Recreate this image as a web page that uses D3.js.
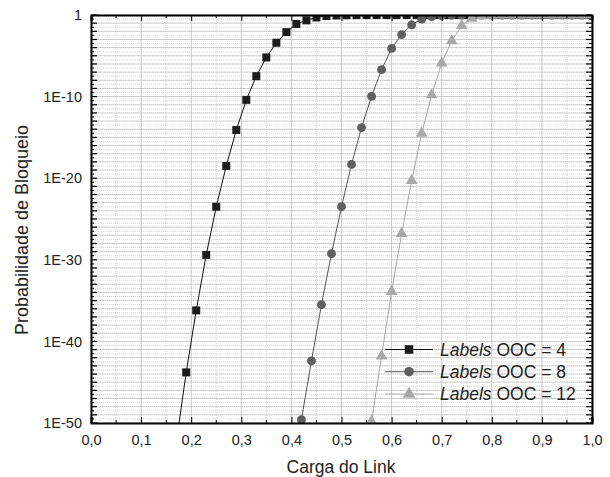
<!DOCTYPE html>
<html><head><meta charset="utf-8">
<script src="https://cdn.jsdelivr.net/npm/d3@7"></script>
<style>body{margin:0;background:#fff}svg{display:block}text{font-family:"Liberation Sans",Arial,sans-serif}</style>
</head><body>
<svg id="c" width="610" height="477"></svg>
<script>
// ---- data ----
const xA = [0.17,0.19,0.21,0.23,0.25,0.27,0.29,0.31,0.33,0.35,0.37,0.39,0.41,0.43,0.45,0.47,0.49,0.51,0.53,0.55,0.57,0.59,0.61,0.63,0.65,0.67,0.69,0.71,0.73,0.75,0.77,0.79,0.81,0.83,0.85,0.87,0.89,0.91,0.93,0.95,0.97,0.99];
const yA = [3e-53,1.6e-44,6.3e-37,4e-30,3.2e-24,3.2e-19,8e-15,4e-11,3.2e-8,6.3e-6,4e-4,8e-3,0.08,0.22,0.5,0.76,0.87,0.93,0.96,0.97,0.98,0.985,0.99,0.99,0.99,0.99,0.99,0.99,0.99,0.99,0.99,0.99,0.99,0.99,0.99,0.99,0.99,0.99,0.99,0.99,0.99,0.99];
const xB = [0.42,0.44,0.46,0.48,0.50,0.52,0.54,0.56,0.58,0.60,0.62,0.64,0.66,0.68,0.70,0.72,0.74,0.76,0.78,0.80,0.82,0.84,0.86,0.88,0.90,0.92,0.94,0.96,0.98,1.00];
const yB = [2.5e-50,4e-43,3.2e-36,5.6e-30,3.2e-24,5e-19,1.6e-14,1.07e-10,2e-7,8e-5,4e-3,0.063,0.32,0.63,0.83,0.9,0.94,0.96,0.97,0.98,0.985,0.99,0.99,0.99,0.99,0.99,0.99,0.99,0.99,0.99];
const xC = [0.56,0.58,0.60,0.62,0.64,0.66,0.68,0.70,0.72,0.74,0.76,0.78,0.80,0.82,0.84,0.86,0.88,0.90,0.92,0.94,0.96,0.98,1.00];
const yC = [1.6e-50,1.6e-42,1.26e-34,1.6e-27,5e-21,3.2e-15,1.6e-10,1.26e-6,7e-4,0.05,0.4,0.76,0.9,0.94,0.96,0.97,0.98,0.985,0.99,0.99,0.99,0.99,0.99];
const seriesNames = ["OOC = 4","OOC = 8","OOC = 12"];
const xTickValues = [0,0.1,0.2,0.3,0.4,0.5,0.6,0.7,0.8,0.9,1.0];
const yTickLabels = ["1","1E-10","1E-20","1E-30","1E-40","1E-50"];
const yTickValues = [1,1e-10,1e-20,1e-30,1e-40,1e-50];

// ---- layout ----
const svg = d3.select("#c");
const L = 91, R = 592, T = 15, B = 423;
const x = d3.scaleLinear().domain([0,1]).range([L,R]);
const y = d3.scaleLog().domain([1e-50,1]).range([B,T]);
const decades = d3.range(0,51).map(k => Math.pow(10,-k));
const halfDec = d3.range(0,50).map(k => Math.pow(10,-k-0.5));
const xMinor = d3.range(0,20).map(k => 0.05 + k*0.1).filter(v => v < 1);

// grid
const g = svg.append("g");
g.selectAll(".hm").data(halfDec).join("line")
  .attr("x1",L).attr("x2",R).attr("y1",d=>y(d)).attr("y2",d=>y(d))
  .attr("stroke","#d4d4d4").attr("stroke-width",1).attr("stroke-dasharray","1,1");
g.selectAll(".vm").data(xMinor).join("line")
  .attr("y1",T).attr("y2",B).attr("x1",d=>x(d)).attr("x2",d=>x(d))
  .attr("stroke","#d4d4d4").attr("stroke-width",1).attr("stroke-dasharray","1,1");
g.selectAll(".hM").data(decades).join("line")
  .attr("x1",L).attr("x2",R).attr("y1",d=>y(d)).attr("y2",d=>y(d))
  .attr("stroke","#cbcbcb").attr("stroke-width",1);
g.selectAll(".vM").data(xTickValues).join("line")
  .attr("y1",T).attr("y2",B).attr("x1",d=>x(d)).attr("x2",d=>x(d))
  .attr("stroke","#c8c8c8").attr("stroke-width",1);

// clip
svg.append("clipPath").attr("id","clip").append("rect")
  .attr("x",L).attr("y",T).attr("width",R-L).attr("height",B-T);

const series = [
  {xs:xA, ys:yA, color:"#1c1c1c", line:"#111", sym:d3.symbolSquare, size:64},
  {xs:xB, ys:yB, color:"#5f5f5f", line:"#555", sym:d3.symbolCircle, size:62},
  {xs:xC, ys:yC, color:"#a8a8a8", line:"#a8a8a8", sym:d3.symbolTriangle, size:60}
];
const plot = svg.append("g").attr("clip-path","url(#clip)");
const lineGen = d3.line().x(d=>x(d[0])).y(d=>y(d[1]));
series.forEach(s => {
  const pts = s.xs.map((v,i)=>[v,s.ys[i]]);
  plot.append("path").attr("d",lineGen(pts)).attr("fill","none")
    .attr("stroke",s.line).attr("stroke-width",1);
  plot.selectAll(null).data(pts).join("path")
    .attr("d",d3.symbol().type(s.sym).size(s.size))
    .attr("transform",d=>`translate(${x(d[0])},${y(d[1])})`)
    .attr("fill",s.color);
});

// axes (ticks inward)
const axB = d3.axisBottom(x).tickValues(xTickValues).tickSize(-6)
  .tickFormat(d => d3.format(".1f")(d).replace(".",","));
const gB = svg.append("g").attr("transform",`translate(0,${B})`).call(axB);
gB.selectAll("text").attr("dy","1.3em").style("font-size","14.5px").attr("fill","#222");
gB.append("g").selectAll("line").data(xMinor).join("line")
  .attr("x1",d=>x(d)).attr("x2",d=>x(d)).attr("y1",0).attr("y2",-3).attr("stroke","#000");
const axT = d3.axisTop(x).tickValues(xTickValues).tickSize(-6).tickFormat("");
const gT = svg.append("g").attr("transform",`translate(0,${T})`).call(axT);
gT.append("g").selectAll("line").data(xMinor).join("line")
  .attr("x1",d=>x(d)).attr("x2",d=>x(d)).attr("y1",0).attr("y2",3).attr("stroke","#000");

const axLft = d3.axisLeft(y).tickValues(yTickValues).tickSize(0)
  .tickPadding(9).tickFormat((d,i)=>yTickLabels[i]);
const gL = svg.append("g").attr("transform",`translate(${L},0)`).call(axLft);
gL.selectAll("text").style("font-size","14.5px").attr("fill","#222");
gL.append("g").selectAll("line").data(decades).join("line")
  .attr("x1",0).attr("x2",6).attr("y1",d=>y(d)).attr("y2",d=>y(d)).attr("stroke","#000").attr("stroke-width",1.2);
gL.append("g").selectAll("line").data(halfDec).join("line")
  .attr("x1",0).attr("x2",3).attr("y1",d=>y(d)).attr("y2",d=>y(d)).attr("stroke","#000");
const axRt = d3.axisRight(y).tickValues([]).tickSize(0);
const gR = svg.append("g").attr("transform",`translate(${R},0)`).call(axRt);
gR.append("g").selectAll("line").data(decades).join("line")
  .attr("x1",0).attr("x2",-6).attr("y1",d=>y(d)).attr("y2",d=>y(d)).attr("stroke","#000").attr("stroke-width",1.2);
gR.append("g").selectAll("line").data(halfDec).join("line")
  .attr("x1",0).attr("x2",-3).attr("y1",d=>y(d)).attr("y2",d=>y(d)).attr("stroke","#000");
[gB,gT,gL,gR].forEach(a => a.select(".domain").attr("stroke","#000").attr("stroke-width",2));
[gB,gT].forEach(a => a.selectAll(".tick line").attr("stroke","#000"));

// titles
svg.append("text").attr("x",341).attr("y",473).attr("text-anchor","middle")
  .style("font-size","17.5px").attr("fill","#222").text("Carga do Link");
svg.append("text").attr("transform","translate(28,230) rotate(-90)").attr("text-anchor","middle")
  .style("font-size","18px").attr("fill","#222").text("Probabilidade de Bloqueio");

// legend
const legY = [349.5,371.7,394];
series.forEach((s,i) => {
  const lg = svg.append("g");
  lg.append("line").attr("x1",385).attr("x2",433).attr("y1",legY[i]).attr("y2",legY[i])
    .attr("stroke",s.line).attr("stroke-width",1);
  lg.append("path").attr("d",d3.symbol().type(s.sym).size(s.size+10))
    .attr("transform",`translate(409,${legY[i]})`).attr("fill",s.color);
  const t = lg.append("text").attr("x",440).attr("y",legY[i]).attr("dy","0.36em")
    .style("font-size","17.5px").attr("fill","#222");
  t.append("tspan").style("font-style","italic").text("Labels");
  t.append("tspan").text(" " + seriesNames[i]);
});
</script>
</body></html>
